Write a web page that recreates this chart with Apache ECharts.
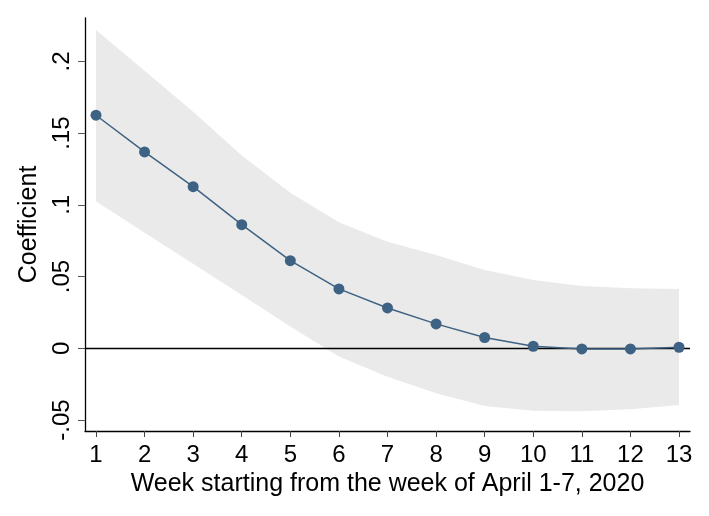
<!DOCTYPE html>
<html>
<head>
<meta charset="utf-8">
<script src="https://cdn.jsdelivr.net/npm/echarts@6/dist/echarts.min.js"></script>
<style>
html,body{margin:0;padding:0;background:#fff;}
#chart{width:709px;height:516px;}
</style>
</head>
<body>
<div id="chart"></div>
<script>
var weeks = [1,2,3,4,5,6,7,8,9,10,11,12,13];
var coef  = [0.1625,0.1369,0.1127,0.0862,0.0611,0.0414,0.0281,0.0170,0.0075,0.0014,-0.0005,-0.0005,0.0007];
var upper = [0.222,0.1936,0.165,0.1345,0.1085,0.0879,0.0743,0.0650,0.0546,0.0476,0.0434,0.0418,0.0414];
var lower = [0.1025,0.0805,0.0590,0.0372,0.0151,-0.0058,-0.0198,-0.0314,-0.0402,-0.0435,-0.0440,-0.0425,-0.0395];
var yTicks = [-0.05,0,0.05,0.1,0.15,0.2];
var yTickLabels = ['-.05','0','.05','.1','.15','.2'];

var font = '"Liberation Sans", Arial, sans-serif';
var chart = echarts.init(document.getElementById('chart'));

var lineData = weeks.map(function(w,i){return [w, coef[i]];});

chart.setOption({
  animation:false,
  backgroundColor:'#fff',
  grid:{left:85,right:19,top:18,bottom:85},
  xAxis:{
    type:'value', min:0.774, max:13.226,
    name:'Week starting from the week of April 1-7, 2020',
    nameLocation:'middle', nameGap:37,
    nameTextStyle:{fontFamily:font,fontSize:25,color:'#000'},
    axisLine:{show:true,onZero:false,lineStyle:{color:'#000',width:1.3}},
    axisTick:{show:true,length:6,customValues:weeks,lineStyle:{color:'#444'}},
    axisLabel:{customValues:weeks,fontFamily:font,fontSize:24,color:'#000',margin:12,
      formatter:function(v){return String(Math.round(v));}},
    splitLine:{show:false}
  },
  yAxis:{
    type:'value', min:-0.0577, max:0.2303,
    name:'Coefficient',
    nameLocation:'middle', nameGap:32,
    nameTextStyle:{fontFamily:font,fontSize:25,color:'#000'},
    axisLine:{show:true,onZero:false,lineStyle:{color:'#000',width:1.3}},
    axisTick:{show:true,length:7,customValues:yTicks,lineStyle:{color:'#555'}},
    axisLabel:{customValues:yTicks,rotate:90,fontFamily:font,fontSize:24,color:'#000',margin:11,
      align:'center',verticalAlign:'bottom',
      formatter:function(v){
        for(var i=0;i<yTicks.length;i++){ if(Math.abs(v-yTicks[i])<1e-9) return yTickLabels[i]; }
        return '';
      }},
    splitLine:{show:false}
  },
  series:[
    {
      type:'custom',
      silent:true,
      data:[[weeks[0], upper[0]]],
      renderItem:function(params, api){
        var pts=[];
        for(var i=0;i<weeks.length;i++) pts.push(api.coord([weeks[i], upper[i]]));
        for(var j=weeks.length-1;j>=0;j--) pts.push(api.coord([weeks[j], lower[j]]));
        return {type:'polygon', shape:{points:pts}, style:{fill:'#eaeaea'}};
      },
      z:1
    },
    {
      type:'line',
      data:lineData,
      symbol:'circle', symbolSize:11,
      lineStyle:{color:'#3e6283',width:1.5},
      itemStyle:{color:'#3e6283'},
      z:3,
      markLine:{
        silent:true, symbol:'none', label:{show:false},
        lineStyle:{color:'#000',width:1.3,type:'solid'},
        data:[{yAxis:0}],
        z:2
      }
    }
  ]
});
</script>
</body>
</html>
